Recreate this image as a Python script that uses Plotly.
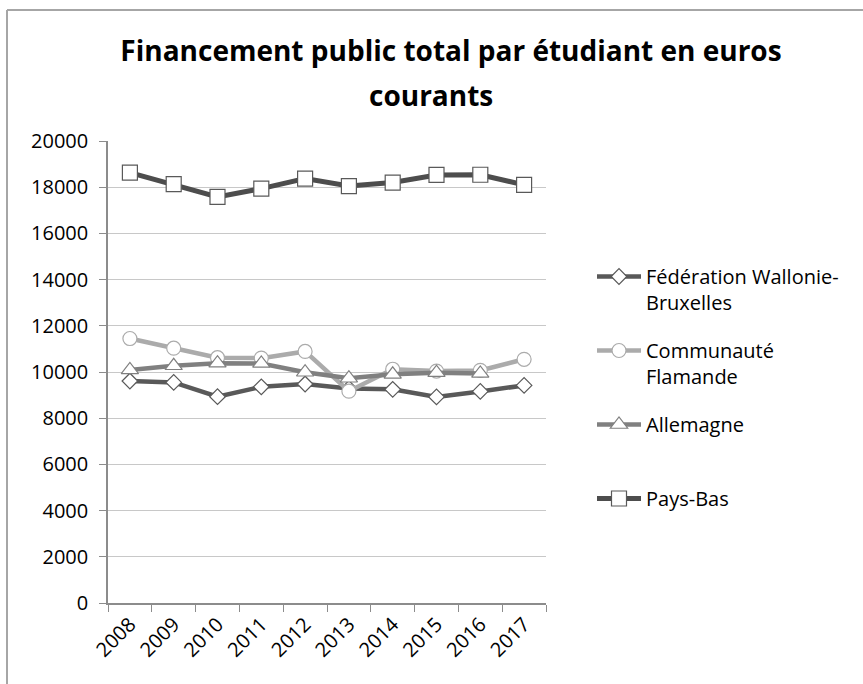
import plotly.graph_objects as go

# Années et séries (euros courants par étudiant)
annees = ["2008", "2009", "2010", "2011", "2012", "2013", "2014", "2015", "2016", "2017"]
federation_wb = [9610, 9550, 8930, 9360, 9480, 9290, 9250, 8920, 9160, 9420]
communaute_fl = [11450, 11030, 10620, 10600, 10890, 9170, 10120, 10040, 10070, 10550]
allemagne = [10090, 10270, 10380, 10370, 9990, 9730, 9900, 9970, 9940, None]
pays_bas = [18630, 18130, 17580, 17940, 18370, 18050, 18200, 18530, 18540, 18100]

noms = ["Fédération Wallonie-<br>Bruxelles", "Communauté<br>Flamande",
        "Allemagne<br>\u00a0", "Pays-Bas<br>\u00a0"]
tick_vals = list(range(0, 20001, 2000))

styles = [
    dict(color="#595959", symbol="diamond", size=12, edge="#595959", width=4.5),
    dict(color="#ABABAB", symbol="circle", size=14, edge="#ABABAB", width=4.5),
    dict(color="#808080", symbol="triangle-up", size=15, edge="#808080", width=4.5),
    dict(color="#4D4D4D", symbol="square", size=15, edge="#595959", width=5),
]

fig = go.Figure()
for i, (nom, vals, st) in enumerate(zip(noms, [federation_wb, communaute_fl, allemagne, pays_bas], styles)):
    fig.add_trace(go.Scatter(
        x=annees, y=vals, name=nom, mode="lines+markers",
        legendgroup=f"g{i}",
        line=dict(color=st["color"], width=st["width"]),
        marker=dict(symbol=st["symbol"], size=st["size"], color="white",
                    line=dict(color=st["edge"], width=1.2)),
    ))

# Plot area in pixels: x 108..546, y 141..603
W, H = 863, 684
L, R, T, B = 108, 546, 141, 603
pw, ph = R - L, B - T

def px(xp):
    return (xp - L) / pw

def py(yp):
    return (B - yp) / ph

font = "Open Sans, Noto Sans, sans-serif"

fig.update_layout(
    width=W, height=H,
    margin=dict(l=L, r=W - R, t=T, b=H - B),
    paper_bgcolor="white", plot_bgcolor="white",
    font=dict(family=font, size=20, color="#000000"),
    title=dict(
        text="<b>Financement public total par étudiant en euros</b>",
        x=451 / W, xanchor="center", xref="container",
        y=1 - 51 / H, yanchor="middle", yref="container",
        font=dict(family=font, size=28, color="#000000"),
    ),
    annotations=[
        dict(text="<b>courants</b>", xref="paper", yref="paper",
             x=px(431), y=py(95), xanchor="center", yanchor="middle",
             showarrow=False, font=dict(family=font, size=28, color="#000000")),
    ],
    showlegend=True,
    legend=dict(
        x=px(592), y=py(257), xanchor="left", yanchor="top",
        font=dict(family=font, size=20, color="#000000"),
        valign="top", tracegroupgap=19, itemwidth=44,
        bgcolor="rgba(0,0,0,0)",
    ),
    xaxis=dict(
        type="category", range=[-0.5, 9.5],
        tickson="boundaries", ticks="outside", ticklen=7, tickcolor="#8C8C8C",
        tickangle=-45, showline=True, linecolor="#8C8C8C", linewidth=1.5,
        showgrid=False, tickfont=dict(size=20),
    ),
    yaxis=dict(
        range=[0, 20000], tickvals=tick_vals, ticktext=[str(v) for v in tick_vals],
        ticks="outside", ticklen=7, tickcolor="#8C8C8C", ticklabelstandoff=7,
        showline=True, linecolor="#8C8C8C", linewidth=1.5,
        showgrid=True, gridcolor="#C8C8C8", gridwidth=1, zeroline=False,
        tickfont=dict(size=20),
    ),
    shapes=[
        dict(type="line", xref="paper", yref="paper", x0=px(7), x1=px(7),
             y0=py(10), y1=py(700), line=dict(color="#A6A6A6", width=2)),
        dict(type="line", xref="paper", yref="paper", x0=px(7), x1=px(880),
             y0=py(10), y1=py(10), line=dict(color="#A6A6A6", width=2)),
    ],
)

fig.write_html("out.html")
